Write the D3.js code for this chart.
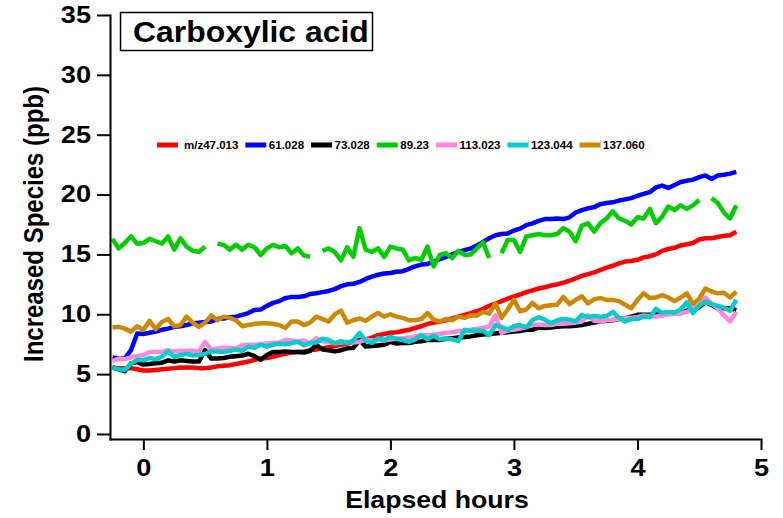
<!DOCTYPE html>
<html>
<head>
<meta charset="utf-8">
<script src="https://cdn.jsdelivr.net/npm/d3@7"></script>
<style>
  html, body { margin: 0; padding: 0; background: #fff; }
  svg { display: block; font-family: "Liberation Sans", Arial, Helvetica, sans-serif; font-weight: bold; }
</style>
</head>
<body>
<svg id="chart" width="783" height="518"></svg>
<script>
// Sampling grid: one reading every 0.05 h, starting 0.25 h before t0
const startHour = -0.25;
const stepHour = 0.05;

const seriesNames = ["m/z47.013", "61.028", "73.028", "89.23", "113.023", "123.044", "137.060"];

// Increased mixing ratio (ppb) per species; null = no reading
const mz47 = [
  5.55, 5.5, 5.5, 5.5, 5.4, 5.3, 5.3, 5.35, 5.4, 5.45,
  5.5, 5.55, 5.55, 5.55, 5.5, 5.5, 5.55, 5.65, 5.7, 5.75,
  5.85, 5.95, 6.05, 6.2, 6.3, 6.35, 6.45, 6.6, 6.7, 6.8,
  6.85, 6.9, 7.0, 7.05, 7.15, 7.25, 7.35, 7.45, 7.55, 7.7,
  7.8, 7.9, 8.05, 8.25, 8.35, 8.45, 8.5, 8.6, 8.7, 8.85,
  9.0, 9.2, 9.3, 9.4, 9.5, 9.65, 9.8, 9.95, 10.1, 10.25,
  10.45, 10.7, 10.9, 11.1, 11.3, 11.5, 11.65, 11.85, 12.0, 12.15,
  12.25, 12.4, 12.5, 12.65, 12.8, 13.0, 13.2, 13.35, 13.5, 13.7,
  13.9, 14.05, 14.25, 14.4, 14.45, 14.55, 14.75, 14.85, 15.0, 15.3,
  15.45, 15.55, 15.75, 15.85, 15.95, 16.25, 16.35, 16.35, 16.45, 16.55,
  16.6, 16.9
];
const mz61 = [
  6.4, 6.3, 6.3, 7.0, 8.4, 8.35, 8.45, 8.55, 8.7, 8.8,
  8.95, 9.0, 9.1, 9.25, 9.3, 9.35, 9.4, 9.6, 9.65, 9.75,
  9.8, 9.95, 10.1, 10.35, 10.4, 10.7, 10.95, 11.1, 11.35, 11.45,
  11.45, 11.5, 11.7, 11.75, 11.85, 11.95, 12.1, 12.35, 12.5, 12.55,
  12.7, 12.95, 13.15, 13.3, 13.4, 13.45, 13.55, 13.6, 13.8, 14.0,
  14.15, 14.2, 14.4, 14.6, 14.8, 15.0, 15.2, 15.35, 15.5, 15.75,
  16.05, 16.35, 16.6, 16.7, 16.75, 17.0, 17.15, 17.45, 17.6, 17.8,
  17.95, 17.95, 18.0, 17.95, 18.1, 18.5, 18.7, 18.85, 18.95, 19.2,
  19.3, 19.35, 19.5, 19.6, 19.7, 19.9, 20.05, 20.2, 20.6, 20.75,
  20.55, 20.8, 21.05, 21.15, 21.25, 21.45, 21.6, 21.3, 21.6, 21.65,
  21.75, 21.9
];
const mz73 = [
  5.55, 5.4, 5.25, 5.9, 6.0, 5.8, 5.85, 5.9, 5.95, 6.15,
  6.05, 6.15, 6.1, 6.05, 6.05, 7.0, 6.3, 6.3, 6.35, 6.45,
  6.5, 6.55, 6.7, 6.5, 6.2, 6.6, 6.85, 6.85, 6.9, 6.85,
  6.85, 6.8, 6.95, 7.45, 7.05, 7.0, 6.9, 7.0, 7.15, 7.2,
  7.85, 7.3, 7.35, 7.4, 7.45, 7.7, 7.55, 7.6, 7.6, 7.7,
  7.75, 7.85, 7.85, 7.85, 7.95, 8.0, 8.05, 8.1, 8.15, 8.25,
  8.3, 8.35, 8.4, 8.45, 8.5, 8.55, 8.6, 8.7, 8.7, 8.9,
  8.85, 8.9, 8.95, 9.0, 9.0, 9.05, 9.1, 9.2, 9.3, 9.4,
  9.45, 9.5, 9.6, 9.65, 9.8, 9.95, 9.95, 9.95, 10.0, 10.05,
  10.1, 10.1, 10.1, 10.3, 10.4, 10.6, 11.0, 10.8, 10.5, 10.5,
  10.5, 10.35
];
const mz89 = [
  16.3, 15.5, 15.95, 16.5, 15.9, 15.95, 16.3, 16.1, 15.9, 16.5,
  15.4, 16.35, 15.65, 15.3, 15.2, 15.65, null, 15.9, 15.8, 15.4,
  15.8, 15.4, 15.8, 15.6, 14.95, 15.5, 15.8, 15.6, 15.7, 15.1,
  15.5, 14.9, 14.8, null, 15.3, 15.5, 15.2, 14.5, 15.6, 14.8,
  17.2, 15.4, 15.2, 15.5, 14.8, 15.65, 15.5, 15.4, 14.5, 14.7,
  14.55, 15.65, 14.0, 14.95, 15.1, 14.7, 15.3, 14.95, 15.0, 15.5,
  16.0, 14.7, null, 15.1, 16.2, 16.2, 15.2, 16.5, 16.6, 16.7,
  16.6, 16.6, 16.7, 17.2, 16.9, 16.1, 17.4, 17.6, 16.9, 17.6,
  18.0, 18.6, 18.0, 17.8, 17.5, 18.1, 18.0, 18.8, 17.6, 18.15,
  19.0, 18.7, 19.1, 18.8, 19.1, 19.55, null, 19.7, 19.3, 18.5,
  18.0, 19.1
];
const mz113 = [
  6.1, 6.3, 6.25, 6.4, 6.5, 6.6, 6.85, 6.85, 6.85, 7.0,
  6.9, 6.95, 6.95, 6.95, 6.9, 7.7, 7.05, 7.15, 7.2, 7.2,
  7.15, 7.4, 7.45, 7.45, 7.5, 7.55, 7.6, 7.65, 7.85, 7.8,
  7.75, 7.8, 7.6, 8.0, 7.75, 7.7, 7.6, 7.65, 7.7, 7.65,
  7.7, 7.9, 7.8, 7.85, 7.8, 7.9, 7.95, 8.0, 8.05, 8.15,
  8.25, 8.25, 8.3, 8.35, 8.45, 8.5, 8.6, 8.6, 8.7, 8.8,
  8.85, 9.0, 9.9, 8.45, 8.65, 8.7, 8.8, 8.95, 9.1, 9.15,
  9.1, 9.1, 9.2, 9.2, 9.25, 9.3, 9.4, 9.9, 9.45, 9.4,
  9.5, 9.55, 9.6, 9.65, 9.7, 9.75, 9.9, 9.85, 9.8, 9.9,
  10.0, 10.05, 10.1, 10.2, 10.4, 10.75, 11.4, 10.9, 10.5, 9.9,
  9.4, 10.2
];
const mz123 = [
  5.55, 5.4, 5.35, 5.85, 6.2, 6.15, 6.35, 6.25, 6.45, 6.9,
  6.45, 6.6, 6.7, 6.55, 6.6, 6.7, 6.9, 6.9, 6.85, 6.95,
  7.05, 6.95, 7.3, 7.2, 7.45, 7.3, 7.45, 7.55, 7.5, 7.6,
  7.7, 7.4, 7.6, 7.65, 7.95, 7.85, 7.55, 7.75, 7.6, 7.8,
  8.45, 7.8, 7.6, 8.0, 7.85, 8.1, 7.95, 7.85, 7.7, 7.9,
  8.25, 7.9, 8.2, 7.9, 8.0, 7.9, 7.75, 8.7, 8.6, 8.65,
  8.6, 8.25, 9.1, 8.95, 8.7, 9.0, 9.1, 8.9, 9.5, 9.75,
  9.55, 9.25, 9.5, 9.6, 9.55, 9.4, 9.95, 9.75, 9.85, 9.8,
  9.85, 10.2, 9.7, 9.4, 9.6, 9.6, 9.8, 9.75, 10.45, 10.1,
  10.2, 10.15, 10.4, 11.0, 10.1, 10.75, 11.05, 10.85, 10.7, 10.55,
  10.3, 11.2
];
const mz137 = [
  8.9, 8.95, 8.8, 8.55, 9.0, 8.7, 9.45, 8.75, 9.35, 9.6,
  9.0, 9.1, 9.8, 9.3, 8.95, 9.3, 9.9, 9.5, 9.8, 9.7,
  9.5, 9.0, 9.1, 9.2, 9.25, 9.25, 9.2, 9.1, 8.85, 9.4,
  9.4, 9.1, 9.3, 9.8, 9.6, 9.4, 10.0, 10.3, 9.3, 9.5,
  9.65, 9.45, 9.8, 10.1, 9.8, 10.0, 9.8, 9.7, 9.5, 9.5,
  9.6, 10.1, 9.55, 9.4, 9.6, 9.5, 9.8, 9.7, 9.9, 9.9,
  10.2, 10.05, 10.9, 9.7, 10.4, 11.2, 10.25, 10.4, 10.95, 10.5,
  10.7, 10.75, 10.8, 11.45, 10.85, 11.2, 11.5, 10.9, 11.25, 11.35,
  11.2, 11.2, 11.1, 10.8, 10.5, 11.2, 11.75, 11.35, 11.4, 11.6,
  11.4, 11.1, 11.4, 11.75, 10.85, 11.3, 12.15, 11.9, 11.75, 11.8,
  11.4, 11.9
];

const xTicks = [0, 1, 2, 3, 4, 5];
const yTicks = [0, 5, 10, 15, 20, 25, 30, 35];

const palette = ["#ff0000", "#0000ff", "#000000", "#00cc00", "#ff88de", "#00cccc", "#cc8800"];
const seriesValues = [mz47, mz61, mz73, mz89, mz113, mz123, mz137];

const hours = mz47.map((_, i) => startHour + i * stepHour);
const series = seriesNames.map((name, k) => ({
  name,
  color: palette[k],
  points: seriesValues[k].map((v, i) => ({ h: hours[i], v }))
}));

const svg = d3.select("#chart");

const x = d3.scaleLinear().domain([-0.27, 5]).range([110, 761]);
const y = d3.scaleLinear().domain([-0.42, 35]).range([439, 15]);

// Horizontal widening used for all the bold lettering
function widen(sel, factor) {
  sel.each(function () {
    const len = this.getComputedTextLength();
    d3.select(this).attr("textLength", len * factor).attr("lengthAdjust", "spacingAndGlyphs");
  });
}

// Data lines
const line = d3.line()
  .defined(d => d.v !== null)
  .x(d => x(d.h))
  .y(d => y(d.v));

svg.append("g")
  .selectAll("path")
  .data(series)
  .join("path")
  .attr("fill", "none")
  .attr("stroke", d => d.color)
  .attr("stroke-width", 4.5)
  .attr("stroke-linejoin", "round")
  .attr("stroke-linecap", "butt")
  .attr("d", d => line(d.points));

// Axes
const yAxis = svg.append("g")
  .attr("transform", "translate(110,0)")
  .call(d3.axisLeft(y).tickValues(yTicks).tickFormat(d3.format("d"))
    .tickSize(13).tickSizeOuter(0).tickPadding(6));
const xAxis = svg.append("g")
  .attr("transform", "translate(0,439)")
  .call(d3.axisBottom(x).tickValues(xTicks).tickFormat(d3.format("d"))
    .tickSize(11).tickSizeOuter(0).tickPadding(10));

[xAxis, yAxis].forEach(g => {
  g.select(".domain").attr("stroke", "#000").attr("stroke-width", 2).attr("stroke-linecap", "square");
  g.selectAll(".tick line").attr("stroke", "#000").attr("stroke-width", 2);
  g.selectAll(".tick text")
    .attr("fill", "#000")
    .style("font-family", "'Liberation Sans', Arial, sans-serif")
    .style("font-weight", "bold")
    .style("font-size", "23px");
});
widen(yAxis.selectAll(".tick text"), 1.18);
widen(xAxis.selectAll(".tick text"), 1.18);

// Axis titles
const xTitle = svg.append("text")
  .attr("x", 437)
  .attr("y", 508)
  .attr("text-anchor", "middle")
  .style("font-size", "24px")
  .text("Elapsed hours");
widen(xTitle, 1.11);

svg.append("text")
  .attr("transform", "translate(43,224) scale(1.17,1) rotate(-90)")
  .attr("text-anchor", "middle")
  .style("font-size", "24px")
  .text("Increased Species (ppb)");

// Title box
svg.append("rect")
  .attr("x", 120.5).attr("y", 12.5)
  .attr("width", 252).attr("height", 38)
  .attr("fill", "#fff")
  .attr("stroke", "#000")
  .attr("stroke-width", 1.5);
const title = svg.append("text")
  .attr("x", 133)
  .attr("y", 42)
  .style("font-size", "29px")
  .text("Carboxylic acid");
widen(title, 1.1);

// Legend: swatch + label, laid out left to right
const legend = svg.append("g").attr("transform", "translate(0,145)");
let lx = 157;
series.forEach((s, k) => {
  legend.append("rect")
    .attr("x", lx).attr("y", -2.5)
    .attr("width", 21).attr("height", 5)
    .attr("fill", s.color);
  const t = legend.append("text")
    .attr("x", lx + 21 + (k === 0 ? 6 : 2.5))
    .attr("y", 4)
    .style("font-size", "11.5px")
    .text(s.name);
  const tx = +t.attr("x");
  lx = tx + t.node().getComputedTextLength() + 7;
});
</script>
</body>
</html>
